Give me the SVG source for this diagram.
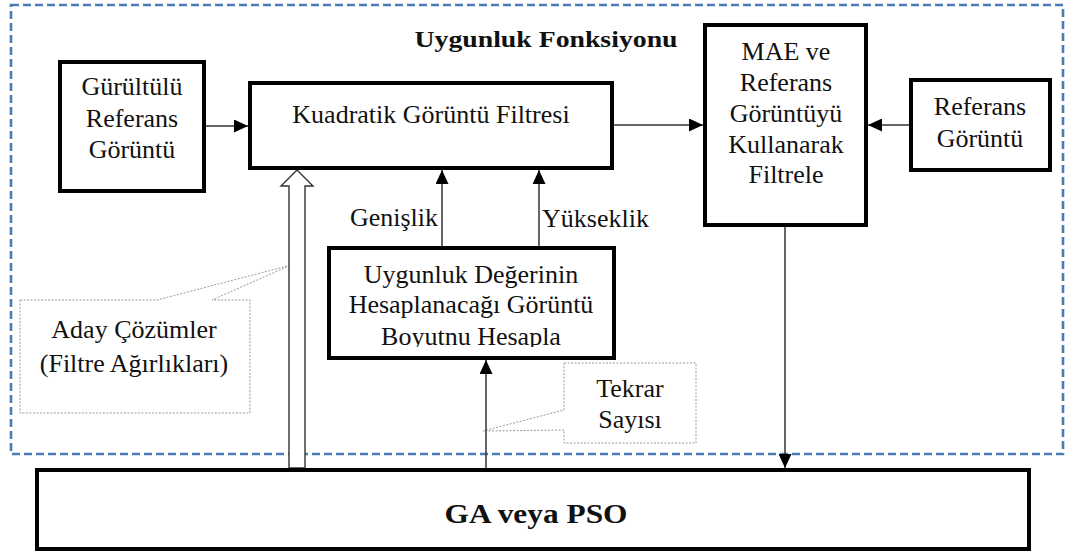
<svg xmlns="http://www.w3.org/2000/svg" width="1066" height="552" viewBox="0 0 1066 552">
  <defs>
    <marker id="head" viewBox="0 0 14 13" markerWidth="14" markerHeight="13" refX="14" refY="6.5" orient="auto" markerUnits="userSpaceOnUse">
      <path d="M0,0 L14,6.5 L0,13 Z" fill="#000"/>
    </marker>
    <clipPath id="clipBoyut">
      <rect x="331" y="250" width="281" height="97"/>
    </clipPath>
  </defs>
  <style>
    .box { fill: #fff; stroke: #000; stroke-width: 4; }
    .frame { fill: none; stroke: #4a7db5; stroke-width: 2.6; stroke-dasharray: 8 4; }
    .callout { fill: #fff; stroke: #9a9a9a; stroke-width: 1; stroke-dasharray: 2 1.5; }
    .wire { fill: none; stroke: #333; stroke-width: 1.5; marker-end: url(#head); }
    .hollow { fill: #fff; stroke: #333; stroke-width: 1.4; }
    text { font-family: "Liberation Serif", "Times New Roman", serif; fill: #111; }
    .t { font-size: 26px; text-anchor: middle; }
    .b { font-weight: bold; text-anchor: middle; }
  </style>

  <!-- fitness-function frame -->
  <rect class="frame" x="11" y="5" width="1052" height="449"/>
  <text class="b" x="546" y="47" font-size="24" textLength="263" lengthAdjust="spacingAndGlyphs">Uygunluk Fonksiyonu</text>

  <!-- callouts -->
  <g id="callout-aday">
    <path class="callout" d="M20,300 H157 L291,265 L212,300 H250 V413 H20 Z"/>
    <text class="t" x="134" y="338">Aday Çözümler</text>
    <text class="t" x="134" y="372">(Filtre Ağırlıkları)</text>
  </g>
  <g id="callout-tekrar">
    <path class="callout" d="M564,363 H696 V443 H564 V430 L483,431 L564,410 Z"/>
    <text class="t" x="630" y="397">Tekrar</text>
    <text class="t" x="630" y="428">Sayısı</text>
  </g>

  <!-- connectors -->
  <g id="connectors">
    <line class="wire" x1="206" y1="126" x2="248" y2="126"/>
    <line class="wire" x1="614" y1="125" x2="703" y2="125"/>
    <line class="wire" x1="909" y1="125" x2="868" y2="125"/>
    <line class="wire" x1="442" y1="246" x2="442" y2="170"/>
    <line class="wire" x1="539" y1="246" x2="539" y2="170"/>
    <line class="wire" x1="486" y1="468" x2="486" y2="360"/>
    <line class="wire" x1="785" y1="227" x2="785" y2="468"/>
    <polygon class="hollow" points="297,170 313,186 305,186 305,468 289,468 289,186 281,186"/>
    <text x="438" y="226" font-size="26" text-anchor="end">Genişlik</text>
    <text x="542" y="227" font-size="26">Yükseklik</text>
  </g>

  <!-- nodes -->
  <g id="node-gurultulu">
    <rect class="box" x="60" y="62" width="144" height="129"/>
    <text class="t" x="132" y="95">Gürültülü</text>
    <text class="t" x="132" y="127">Referans</text>
    <text class="t" x="132" y="158">Görüntü</text>
  </g>
  <g id="node-kuadratik">
    <rect class="box" x="250" y="83" width="362" height="85"/>
    <text class="t" x="431" y="123">Kuadratik Görüntü Filtresi</text>
  </g>
  <g id="node-mae">
    <rect class="box" x="705" y="25" width="161" height="200"/>
    <text class="t" x="786" y="60">MAE ve</text>
    <text class="t" x="786" y="91">Referans</text>
    <text class="t" x="786" y="122">Görüntüyü</text>
    <text class="t" x="786" y="153">Kullanarak</text>
    <text class="t" x="786" y="183">Filtrele</text>
  </g>
  <g id="node-referans">
    <rect class="box" x="911" y="80" width="139" height="90"/>
    <text class="t" x="980" y="115">Referans</text>
    <text class="t" x="980" y="147">Görüntü</text>
  </g>
  <g id="node-boyut">
    <rect class="box" x="329" y="248" width="285" height="110"/>
    <g clip-path="url(#clipBoyut)">
      <text class="t" x="471" y="283">Uygunluk Değerinin</text>
      <text class="t" x="471" y="313">Hesaplanacağı Görüntü</text>
      <text class="t" x="471" y="345">Boyutnu Hesapla</text>
    </g>
  </g>
  <g id="node-ga">
    <rect class="box" x="37" y="470" width="992" height="79"/>
    <text class="b" x="536" y="523" font-size="27" textLength="183" lengthAdjust="spacingAndGlyphs">GA veya PSO</text>
  </g>
</svg>
